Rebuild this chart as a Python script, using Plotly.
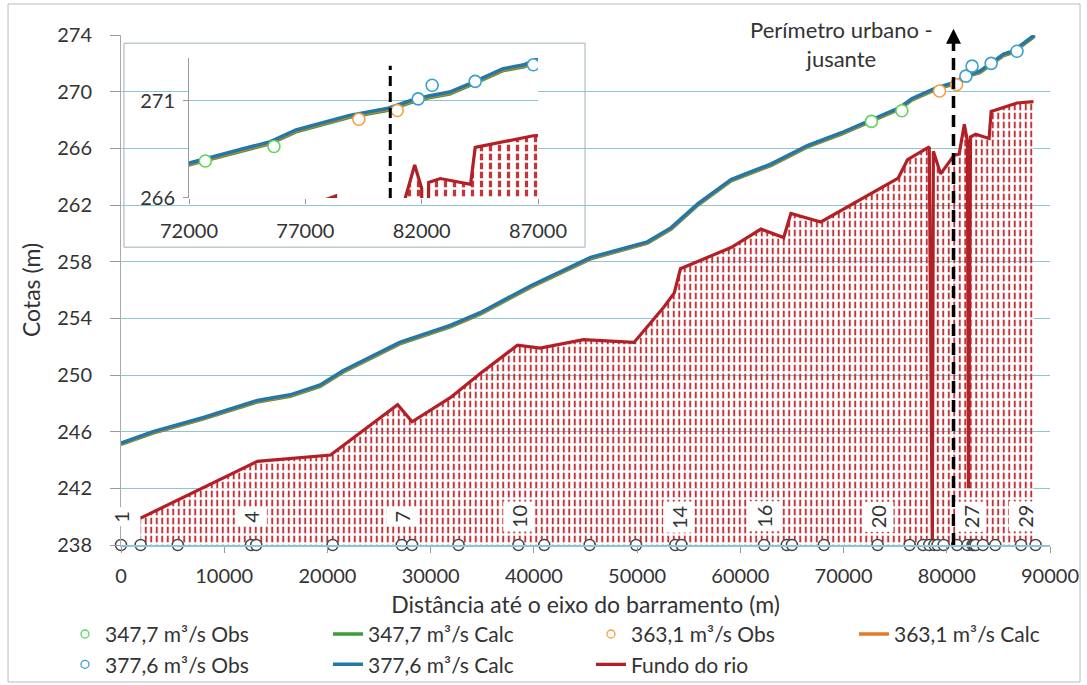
import plotly.graph_objects as go

# ---------------------------------------------------------------- data
# water-surface profiles (distance from dam axis, m -> elevation, m)
WS_X = [0, 3100, 8000, 13200, 16400, 19300, 21500, 27000, 31900, 34800,
        39700, 45500, 51000, 53300, 55900, 59100, 63000, 66500, 69800, 72000,
        75500, 76600, 78000, 78900, 80500, 81500, 82300, 83200, 84100, 85500,
        86400, 88500]
CALC_347 = [245.1, 245.9, 246.9, 248.1, 248.5, 249.2, 250.2, 252.2, 253.4, 254.3,
            256.2, 258.2, 259.3, 260.3, 262.0, 263.7, 264.8, 266.1, 267.0, 267.7,
            268.8, 269.4, 269.85, 270.15, 270.5, 270.9, 271.15, 271.35, 271.8, 272.55,
            272.75, 273.9]
CALC_363 = [245.15, 245.95, 246.95, 248.15, 248.55, 249.25, 250.25, 252.25, 253.45, 254.35,
            256.25, 258.25, 259.35, 260.35, 262.05, 263.75, 264.85, 266.15, 267.05, 267.75,
            268.85, 269.45, 269.9, 270.2, 270.55, 270.95, 271.2, 271.4, 271.85, 272.6,
            272.8, 273.95]
CALC_377 = [245.2, 246.0, 247.0, 248.2, 248.6, 249.3, 250.3, 252.3, 253.5, 254.4,
            256.3, 258.3, 259.4, 260.4, 262.1, 263.8, 264.9, 266.2, 267.1, 267.8,
            268.9, 269.5, 269.95, 270.25, 270.6, 271.0, 271.25, 271.45, 271.9, 272.65,
            272.85, 274.0]

# observed water levels
OBS_347_X = [72700, 75650]
OBS_347_Z = [267.9, 268.65]
OBS_363_X = [79300, 80950]
OBS_363_Z = [270.05, 270.5]
OBS_377_X = [81850, 82450, 84300, 86800]
OBS_377_Z = [271.1, 271.8, 272.0, 272.85]

# river bed
BED_X = [1900, 13200, 20300, 26800, 28200, 31900, 34800, 38400, 40600, 44800,
         49700, 52600, 53600, 54200, 59100, 62000, 64200, 64900, 67800, 75300,
         76200, 78300, 78600, 78700, 79400, 80700, 81200, 81700, 82000, 82100,
         82300, 82800, 84100, 84300, 86800, 88400]
BED_Z = [239.9, 243.9, 244.35, 247.9, 246.7, 248.4, 250.1, 252.1, 251.9, 252.5,
         252.3, 254.8, 255.8, 257.5, 259.0, 260.3, 259.7, 261.4, 260.8, 263.9,
         265.2, 266.1, 238.0, 265.8, 264.2, 265.5, 265.6, 267.7, 266.5, 242.0,
         266.8, 267.0, 266.7, 268.6, 269.2, 269.3]

# cross-section stations along the river
SEC_X = [0, 1900, 5500, 12600, 13100, 20500, 27200, 28200, 32700, 38500,
         41000, 45400, 49900, 53700, 54300, 62300, 64500, 65000, 68100, 73300,
         76400, 77700, 78300, 78800, 79100, 79700, 81000, 82000, 82500, 82650,
         82800, 83500, 84700, 87200, 88600]
SEC_BASE = 238
SEC_LABELS = ["1", "4", "7", "10", "14", "16", "20", "27", "29"]
SEC_LABEL_X = [0, 12600, 27200, 38500, 54000, 62300, 73300, 82300, 87500]

PERIM_X = 80650          # urban perimeter (downstream limit)

X_TICKS = [0, 10000, 20000, 30000, 40000, 50000, 60000, 70000, 80000, 90000]
Y_TICKS = [238, 242, 246, 250, 254, 258, 262, 266, 270, 274]
INSET_X_TICKS = [72000, 77000, 82000, 87000]
INSET_Y_TICKS = [266, 271]

# ---------------------------------------------------------------- styles
FONT = "Lato, 'Open Sans', sans-serif"
TEXT = "#333333"
PAPER = "#ffffff"
GRID = "#8ec5d2"
GREEN_L, ORANGE_L, BLUE_L = "#3d9a3a", "#e07b2c", "#2378a6"
GREEN_M, ORANGE_M, BLUE_M = "#5fd35a", "#f4a040", "#3aa0cc"
BED_COLOR = "#b21f24"
HATCH = "#c2353b"

fig = go.Figure()


def add_profile(xa, ya, hatch_size, show_legend):
    # hatched river-bed area: vertical red lines cut into dashes
    fig.add_trace(go.Scatter(
        uid=f"hatch-{xa}", x=BED_X, y=BED_Z, xaxis=xa, yaxis=ya, mode="lines",
        line=dict(width=0, color=HATCH), fill="tozeroy",
        fillcolor="rgba(0,0,0,0)",
        fillpattern=dict(shape="|", size=hatch_size, solidity=0.36,
                         fgcolor=HATCH, bgcolor="rgba(255,255,255,0)"),
        hoverinfo="skip", showlegend=False))
    fig.add_trace(go.Scatter(
        uid=f"gaps-{xa}", x=BED_X, y=BED_Z, xaxis=xa, yaxis=ya, mode="lines",
        line=dict(width=0, color=PAPER), fill="tozeroy",
        fillcolor="rgba(0,0,0,0)",
        fillpattern=dict(shape="-", size=9, solidity=0.27,
                         fgcolor="rgb(255,255,255)", fgopacity=1,
                         bgcolor="rgba(255,255,255,0)"),
        hoverinfo="skip", showlegend=False))
    # computed water surfaces
    for name, zs, col, rank in [("347,7 m³/s Calc", CALC_347, GREEN_L, 2),
                                ("363,1 m³/s Calc", CALC_363, ORANGE_L, 4),
                                ("377,6 m³/s Calc", CALC_377, BLUE_L, 6)]:
        fig.add_trace(go.Scatter(
            x=WS_X, y=zs, xaxis=xa, yaxis=ya, mode="lines", name=name,
            line=dict(color=col, width=3.5), legendrank=rank,
            legendwidth=150 if rank == 4 else None,
            showlegend=show_legend))
    # river bed line
    fig.add_trace(go.Scatter(
        x=BED_X, y=BED_Z, xaxis=xa, yaxis=ya, mode="lines", name="Fundo do rio",
        line=dict(color=BED_COLOR, width=3.2), legendrank=7,
        showlegend=show_legend))
    # observed levels
    for xs, zs, col in [(OBS_347_X, OBS_347_Z, GREEN_M),
                        (OBS_363_X, OBS_363_Z, ORANGE_M),
                        (OBS_377_X, OBS_377_Z, BLUE_M)]:
        fig.add_trace(go.Scatter(
            x=xs, y=zs, xaxis=xa, yaxis=ya, mode="markers",
            marker=dict(size=12, color=PAPER, line=dict(color=col, width=1.6)),
            showlegend=False))


add_profile("x", "y", 5.5, True)
add_profile("x2", "y2", 9, False)

# cross-section stations on the base line
fig.add_trace(go.Scatter(
    x=SEC_X, y=[SEC_BASE] * len(SEC_X), mode="markers", cliponaxis=False,
    marker=dict(size=11, color=PAPER, line=dict(color="#444444", width=1.4)),
    showlegend=False))

# legend entries for the observed series (small open circles)
for name, col, rank in [("347,7 m³/s Obs", GREEN_M, 1),
                        ("363,1 m³/s Obs", ORANGE_M, 3),
                        ("377,6 m³/s Obs", BLUE_M, 5)]:
    fig.add_trace(go.Scatter(
        x=[None], y=[None], mode="markers", name=name, legendrank=rank,
        marker=dict(size=8, symbol="circle-open", color=col, line=dict(width=1.3))))

# section number labels
for lab, xv in zip(SEC_LABELS, SEC_LABEL_X):
    fig.add_annotation(x=xv, y=240.0, xref="x", yref="y", text=lab,
                       textangle=-90, showarrow=False, bgcolor=PAPER,
                       borderpad=3, font=dict(size=20, color=TEXT))

# urban perimeter marker (main chart)
fig.add_shape(type="line", xref="x", yref="y", x0=PERIM_X, x1=PERIM_X,
              y0=238, y1=273.7, layer="above",
              line=dict(color="black", width=3.5, dash="12px,7px"))
fig.add_annotation(x=PERIM_X, y=274.45, ax=PERIM_X, ay=273.5, xref="x", yref="y",
                   axref="x", ayref="y", text="", showarrow=True, arrowhead=2,
                   arrowsize=1, arrowwidth=3, arrowcolor="black")
fig.add_annotation(x=0.776, y=0.982, xref="paper", yref="paper",
                   xanchor="center", yanchor="middle",
                   text="Perímetro urbano -<br>jusante", showarrow=False,
                   font=dict(size=22, color=TEXT))

# urban perimeter marker (inset)
fig.add_shape(type="line", xref="x2", yref="y2", x0=PERIM_X, x1=PERIM_X,
              y0=266, y1=272.8, layer="above",
              line=dict(color="black", width=3, dash="10px,6px"))

# inset frame
fig.add_shape(type="rect", xref="paper", yref="paper", x0=0.0032, x1=0.4995,
              y0=0.584, y1=0.984, layer="between", fillcolor=PAPER,
              line=dict(color="#9fb0bb", width=1))

# outer chart border
fig.add_shape(type="rect", xref="paper", yref="paper", x0=-0.1216, x1=1.0323,
              y0=-0.2686, y1=1.0608, layer="below", fillcolor="rgba(0,0,0,0)",
              line=dict(color="#b4bcc4", width=1))

tick_font = dict(size=20, color=TEXT)
title_font = dict(size=23, color=TEXT)
fig.update_layout(
    template="none",
    width=1087, height=685,
    margin=dict(l=121, r=37, t=35, b=140, autoexpand=False),
    paper_bgcolor=PAPER, plot_bgcolor=PAPER,
    font=dict(family=FONT, size=20, color=TEXT),
    xaxis=dict(range=[0, 90000], tickvals=X_TICKS, tickformat="d",
               ticks="outside", ticklen=6,
               tickcolor="#999999", showline=True, linecolor=GRID, linewidth=1.5,
               showgrid=False, zeroline=False, tickfont=tick_font,
               ticklabelstandoff=6, automargin=False,
               title=dict(text="Distância até o eixo do barramento (m)",
                          font=title_font, standoff=11)),
    yaxis=dict(range=[238, 274], tickvals=Y_TICKS, ticks="outside", ticklen=10,
               tickcolor="#999999", showline=True, linecolor="#aaaaaa", linewidth=1,
               showgrid=True, gridcolor=GRID, gridwidth=1.3, zeroline=False,
               tickfont=tick_font, ticklabelstandoff=14, automargin=False,
               title=dict(text="Cotas (m)", font=title_font, standoff=10)),
    xaxis2=dict(domain=[0.0732, 0.4489], anchor="y2", range=[72000, 87000],
                tickvals=INSET_X_TICKS, tickformat="d", ticks="outside", ticklen=5,
                tickcolor="#999999", showline=False, showgrid=False,
                zeroline=False, tickfont=dict(size=20, color=TEXT),
                ticklabelstandoff=10, automargin=False),
    yaxis2=dict(domain=[0.6804, 0.9549], anchor="x2", range=[266, 273.2],
                tickvals=INSET_Y_TICKS, ticks="outside", ticklen=5,
                tickcolor="#999999", showline=True, linecolor="#999999",
                linewidth=1, showgrid=True, gridcolor=GRID, gridwidth=1.3,
                zeroline=False, tickfont=dict(size=20, color=TEXT),
                ticklabelstandoff=4, automargin=False),
    legend=dict(orientation="h", x=-0.0603, xanchor="left", y=-0.135,
                yanchor="top", entrywidth=218, font=dict(size=21, color=TEXT),
                bgcolor="rgba(0,0,0,0)", tracegroupgap=0),
    showlegend=True,
)

fig.write_html("out.html")
